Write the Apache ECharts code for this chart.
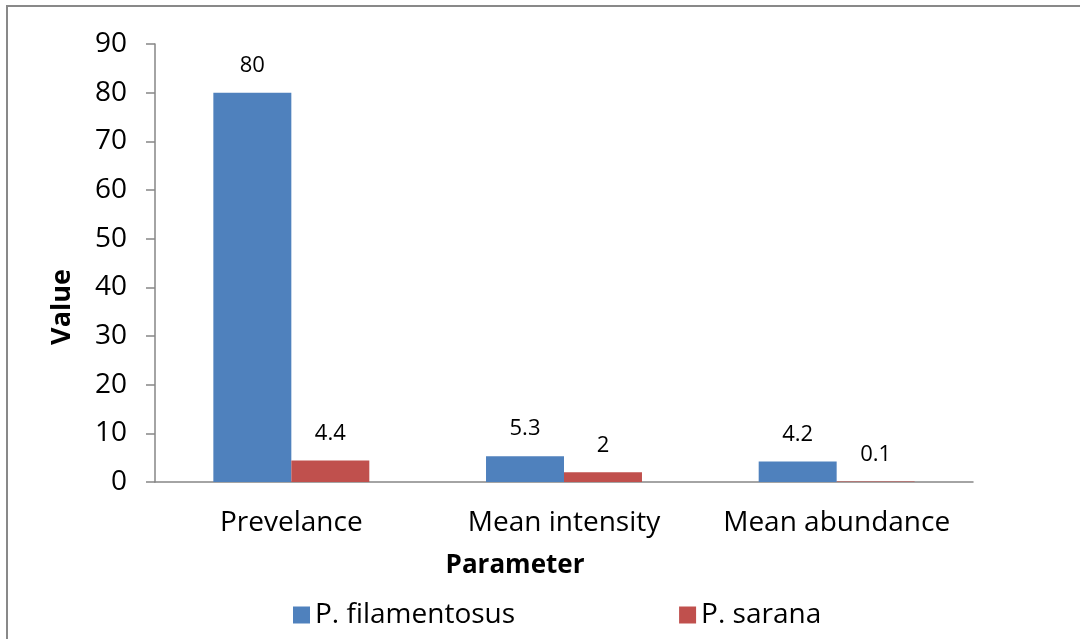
<!DOCTYPE html>
<html><head><meta charset="utf-8">
<script src="https://cdn.jsdelivr.net/npm/echarts@6/dist/echarts.min.js"></script>
<style>html,body{margin:0;padding:0;background:#fff}#c{width:1080px;height:639px}</style>
</head><body><div id="c"></div>
<script>
const categories = ['Prevelance', 'Mean intensity', 'Mean abundance'];
const filamentosus = [80, 5.3, 4.2];
const sarana = [4.4, 2, 0.1];
const yTicks = [0, 10, 20, 30, 40, 50, 60, 70, 80, 90];
const xTitle = 'Parameter';
const yTitle = 'Value';

const FONT = '"Open Sans", "Noto Sans", sans-serif';
const axisColor = '#868686';
const chart = echarts.init(document.getElementById('c'));
chart.setOption({
  animation: false,
  textStyle: { fontFamily: FONT, color: '#000' },
  graphic: [
    {
      type: 'rect', shape: { x: 7, y: 6, width: 1100, height: 700 },
      style: { fill: 'none', stroke: '#898989', lineWidth: 2 }, silent: true
    },
    {
      type: 'text', x: 515, y: 566,
      style: { text: xTitle, font: 'bold 26px ' + FONT, fill: '#000', align: 'center', verticalAlign: 'middle' }
    },
    {
      type: 'text', x: 62, y: 307, rotation: Math.PI / 2,
      style: { text: yTitle, font: 'bold 27px ' + FONT, fill: '#000', align: 'center', verticalAlign: 'middle' }
    }
  ],
  grid: { left: 155, right: 107, top: 44, bottom: 157 },
  legend: {
    left: 288, top: 596, itemWidth: 17, itemHeight: 17, itemGap: 164, icon: 'rect',
    textStyle: { fontFamily: FONT, fontSize: 28, color: '#000' }
  },
  xAxis: {
    type: 'category', data: categories,
    axisLine: { lineStyle: { color: axisColor, width: 1.5 } },
    axisTick: { length: 9, lineStyle: { color: axisColor, width: 1.5 } },
    axisLabel: { interval: 0, fontFamily: FONT, fontSize: 28, color: '#000', margin: 27 }
  },
  yAxis: {
    type: 'value', min: yTicks[0], max: yTicks[yTicks.length - 1], interval: 10,
    axisLine: { show: true, lineStyle: { color: axisColor, width: 1.5 } },
    axisTick: { show: true, length: 9, lineStyle: { color: axisColor, width: 1.5 } },
    splitLine: { show: false },
    axisLabel: { fontFamily: FONT, fontSize: 28, color: '#000', margin: 28 }
  },
  series: [
    {
      name: 'P. filamentosus', type: 'bar', data: filamentosus,
      barWidth: '28.6%', barGap: '0%',
      itemStyle: { color: '#4F81BD' },
      label: { show: true, position: 'top', distance: 16, fontFamily: FONT, fontSize: 22, color: '#000' }
    },
    {
      name: 'P. sarana', type: 'bar', data: sarana,
      barWidth: '28.6%', barGap: '0%',
      itemStyle: { color: '#C0504D' },
      label: { show: true, position: 'top', distance: 16, fontFamily: FONT, fontSize: 22, color: '#000' }
    }
  ]
});
</script></body></html>
